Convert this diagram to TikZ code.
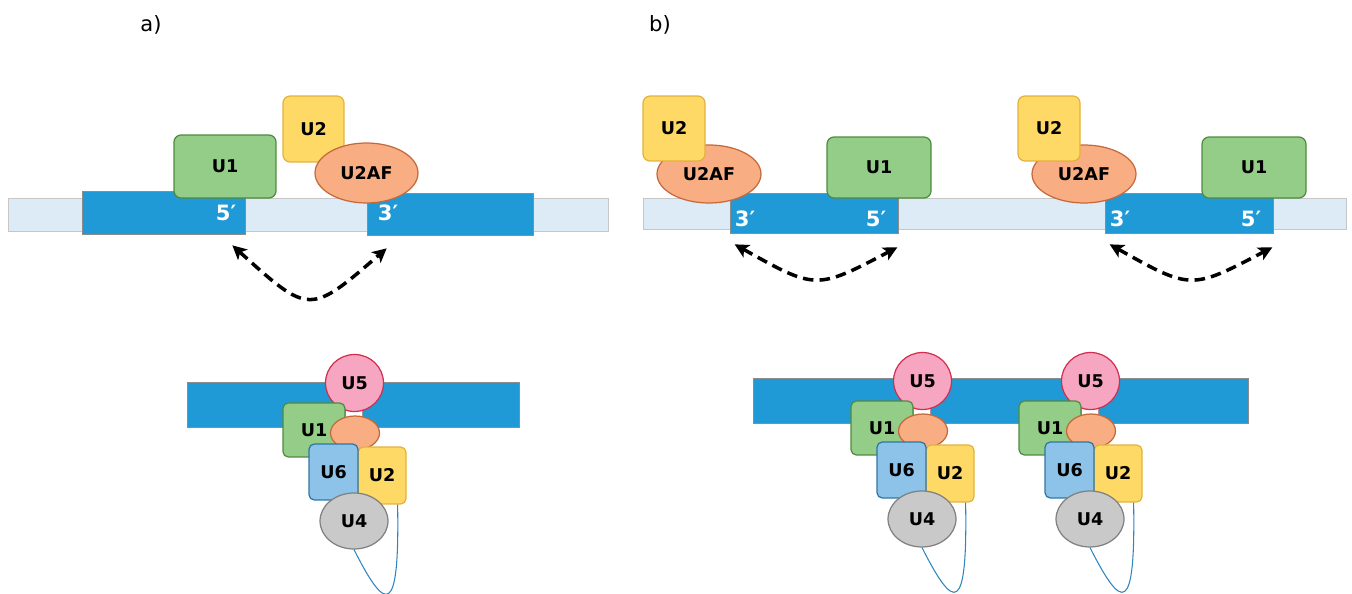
\documentclass[tikz,border=0pt]{standalone}
\usepackage{fontspec}
\setmainfont{DejaVu Sans}
\usetikzlibrary{shapes.geometric,arrows.meta}
\definecolor{bandfill}{HTML}{DDEBF7}
\definecolor{exonfill}{HTML}{1F9AD6}
\definecolor{greenfill}{HTML}{93CD87}
\definecolor{greenline}{HTML}{4F8A3F}
\definecolor{yellowfill}{HTML}{FFD966}
\definecolor{yellowline}{HTML}{E3B23C}
\definecolor{orangefill}{HTML}{F8AD82}
\definecolor{orangeline}{HTML}{C5683A}
\definecolor{pinkfill}{HTML}{F7A6C1}
\definecolor{pinkline}{HTML}{D12F4F}
\definecolor{bluefill}{HTML}{8DC3E9}
\definecolor{blueline}{HTML}{2E75A6}
\definecolor{grayfill}{HTML}{C9C9C9}
\definecolor{grayline}{HTML}{808080}
\definecolor{loopblue}{HTML}{2E86C1}
\tikzset{
  snrp/.style={draw, line width=0.7pt, inner sep=0pt, font=\fontsize{10}{12}\selectfont\bfseries},
  u1box/.style={snrp, rectangle, rounded corners=4pt, fill=greenfill, draw=greenline},
  u2box/.style={snrp, rectangle, rounded corners=4pt, fill=yellowfill, draw=yellowline},
  u6box/.style={snrp, rectangle, rounded corners=4pt, fill=bluefill, draw=blueline},
  u2afell/.style={snrp, ellipse, fill=orangefill, draw=orangeline},
  u5ell/.style={snrp, ellipse, fill=pinkfill, draw=pinkline},
  u4ell/.style={snrp, ellipse, fill=grayfill, draw=grayline},
  rnaband/.style={fill=bandfill, draw=black!22, line width=0.5pt},
  exonbar/.style={rectangle, inner sep=0pt, fill=exonfill, draw=black!45, line width=0.4pt},
  endlabel/.style={text=white, font=\fontsize{12}{14}\selectfont\bfseries},
  splarrow/.style={{Stealth[length=8pt,width=8pt,inset=2pt]}-{Stealth[length=8pt,width=8pt,inset=2pt]}, line width=2pt, dash pattern=on 6pt off 3.5pt},
  loopline/.style={draw=loopblue, line width=0.6pt}
}
\begin{document}
\begin{tikzpicture}[x=0.02cm,y=-0.02cm]
    \useasboundingbox (0,0) rectangle (1352,594);
    \node[font=\fontsize{12}{14}\selectfont] (la) at (151,25) {a)};
    \node[font=\fontsize{12}{14}\selectfont] (lb) at (660,25) {b)};

    % a) exon definition
    \draw[rnaband] (8,198) rectangle (608,231);
    \node[exonbar,minimum width=3.26cm,minimum height=0.86cm] (ex5a) at (163.5,212.5) {};
    \node[exonbar,minimum width=3.32cm,minimum height=0.84cm] (ex3a) at (450,214) {};
    \node[endlabel] at (226,213) {5′};
    \node[endlabel] at (388,213) {3′};
    \node[u1box,minimum width=2.04cm,minimum height=1.26cm] (U1a) at (225,166.5) {U1};
    \node[u2box,minimum width=1.22cm,minimum height=1.32cm] (U2a) at (313.5,129) {U2};
    \node[u2afell,minimum width=2.06cm,minimum height=1.2cm] (U2AFa) at (366.5,173) {U2AF};
    \draw[splarrow] ([shift={(-13,11)}]ex5a.south east) .. controls (309.5,315) .. ([shift={(20,13)}]ex3a.south west);

    % b) intron definition
    \draw[rnaband] (643,198) rectangle (1346,229);
    \foreach \dx/\n in {0/b,375/c}{
      \begin{scope}[shift={(\dx,0)}]
        \node[exonbar,minimum width=3.36cm,minimum height=0.8cm] (ex\n) at (814,213) {};
        \node[endlabel] at (745,219) {3′};
        \node[endlabel] at (876,219) {5′};
        \node[u2afell,minimum width=2.08cm,minimum height=1.16cm] (U2AF\n) at (709,174) {U2AF};
        \node[u2box,minimum width=1.24cm,minimum height=1.3cm] (U2\n) at (674,128.5) {U2};
        \node[u1box,minimum width=2.08cm,minimum height=1.22cm] (U1\n) at (879,167.5) {U1};
        \draw[splarrow] ([shift={(5,11)}]ex\n.south west) .. controls (816,290) .. ([shift={(-1,14)}]ex\n.south east);
      \end{scope}
    }

    % spliceosomes
    \node[exonbar,minimum width=6.64cm,minimum height=0.9cm] (bara) at (353,404.5) {};
    \node[exonbar,minimum width=9.9cm,minimum height=0.9cm] (barb) at (1000.5,400.5) {};
    \foreach \dx/\dy/\n in {0/0/a,568/-2/b,736/-2/c}{
      \begin{scope}[shift={(\dx,\dy)}]
        \draw[fill=white,draw=black!40,line width=0.4pt] (345,407) rectangle (362,417);
        \node[u5ell,minimum width=1.16cm,minimum height=1.14cm] (U5\n) at (354.5,383) {U5};
        \node[u1box,rounded corners=3pt,minimum width=1.24cm,minimum height=1.08cm] (U1s\n) at (314,430) {U1};
        \node[u2afell,minimum width=0.98cm,minimum height=0.68cm] (U2AFs\n) at (355,433) {};
        \node[u2box,rounded corners=3pt,minimum width=0.96cm,minimum height=1.14cm] (U2s\n) at (382,475.5) {U2};
        \node[u6box,rounded corners=3pt,minimum width=0.98cm,minimum height=1.12cm] (U6s\n) at (333.5,472) {U6};
        \node[u4ell,minimum width=1.36cm,minimum height=1.12cm] (U4s\n) at (354,521) {U4};
        \draw[loopline] (U4s\n.south) .. controls +(32,63) and +(2,114) .. ([shift={(-9,0)}]U2s\n.south east);
      \end{scope}
    }
\end{tikzpicture}
\end{document}
